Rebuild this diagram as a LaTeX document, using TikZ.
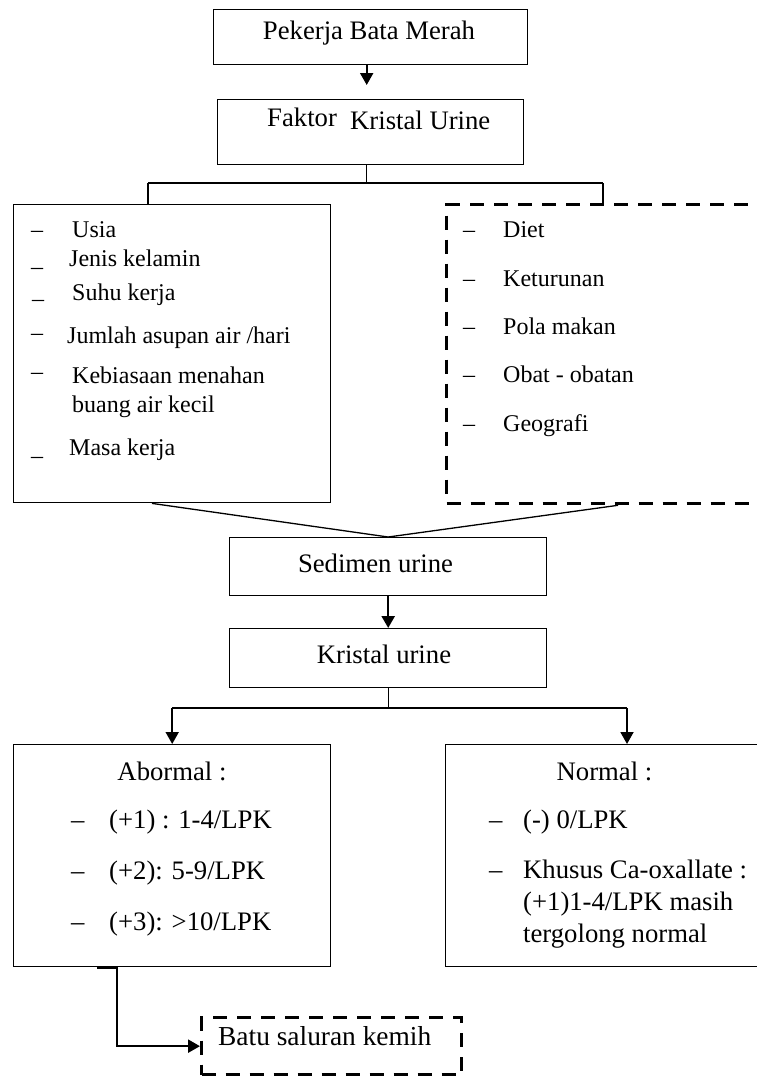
\documentclass[tikz,border=0pt]{standalone}
\usepackage{fontspec}
\setmainfont{Liberation Serif}
\usetikzlibrary{arrows.meta,calc}
\newcommand\fa{\fontsize{26.7}{32}\selectfont}
\newcommand\fb{\fontsize{24}{29}\selectfont}
\newcommand\fc{\fontsize{27.4}{32}\selectfont}
\tikzset{
  box/.style={draw, line width=1.4pt, inner sep=0pt, anchor=north west},
  dbox/.style={draw, line width=3.3pt, dash pattern=on 14pt off 10pt, inner sep=0pt, anchor=north west},
  ta/.style={inner sep=0pt, anchor=base west, font=\fa},
  tac/.style={inner sep=0pt, anchor=base, font=\fa},
  tb/.style={inner sep=0pt, anchor=base west, font=\fb},
  thin line/.style={line width=1.3pt},
  arr/.style={-{Triangle[length=12pt,width=13pt]}},
}
\begin{document}
\begin{tikzpicture}[x=1pt,y=-1pt]
\useasboundingbox (0,0) rectangle (757,1076);
\clip (0,0) rectangle (757,1076);

% boxes
\node[box, minimum width=314pt, minimum height=55pt] (pk) at (213,9) {};
\node[box, minimum width=306pt, minimum height=65pt] (fk) at (217,99) {};
\node[box, minimum width=317pt, minimum height=298pt] (lb) at (13,204) {};
\node[dbox, minimum width=325pt, minimum height=299pt] (rb) at (445,203) {};
\node[box, minimum width=317pt, minimum height=58pt] (sd) at (229,537) {};
\node[box, minimum width=317pt, minimum height=59pt] (kr) at (229,628) {};
\node[box, minimum width=317pt, minimum height=222pt] (ab) at (13,744) {};
\node[box, minimum width=325pt, minimum height=222pt] (nm) at (445,744) {};
\node[dbox, minimum width=260pt, minimum height=57pt] (bt) at (200,1016) {};

% texts
\node[tac] (tpk) at (369,39) {Pekerja Bata Merah};
\node[ta] (tfk1) at (267,126) {Faktor};
\node[ta] (tfk2) at (350,129) {Kristal Urine};
\node[tac] (tsd) at (375.5,572) {Sedimen urine};
\node[tac] (tkr) at (384,663) {Kristal urine};
\node[tac] (tab) at (172,780) {Abormal :};
\node[tac] (tnm) at (604.5,780) {Normal :};
\node[inner sep=0pt, anchor=base west, font=\fc] (tbt) at (218,1045) {Batu saluran kemih};

% left box list
\node[tb] (dl1) at (31,237) {\textendash};
\node[tb] (l1) at (72,237) {Usia};
\node[tb] (dl2) at (31,266) {\_};
\node[tb] (l2) at (69,266) {Jenis kelamin};
\node[tb] (dl3) at (32,298) {\_};
\node[tb] (l3) at (72,300) {Suhu kerja};
\node[tb] (dl4) at (31,340) {\textendash};
\node[tb] (l4) at (67,343) {Jumlah asupan air /hari};
\node[tb] (dl5) at (31,379) {\textendash};
\node[tb] (l5) at (72,383) {Kebiasaan menahan};
\node[tb] (l5b) at (72,412) {buang air kecil};
\node[tb] (dl6) at (31,455) {\_};
\node[tb] (l6) at (69,455) {Masa kerja};

% right box list
\node[tb] (dr1) at (463,237) {\textendash};
\node[tb] (r1) at (503,237) {Diet};
\node[tb] (dr2) at (463,286) {\textendash};
\node[tb] (r2) at (503,286) {Keturunan};
\node[tb] (dr3) at (463,334) {\textendash};
\node[tb] (r3) at (503,334) {Pola makan};
\node[tb] (dr4) at (463,382) {\textendash};
\node[tb] (r4) at (503,382) {Obat - obatan};
\node[tb] (dr5) at (463,431) {\textendash};
\node[tb] (r5) at (503,431) {Geografi};

% abnormal list
\node[ta] (da1) at (71,828) {\textendash};
\node[ta] (a1) at (109,828) {(+1) : 1-4/LPK};
\node[ta] (da2) at (71,879) {\textendash};
\node[ta] (a2) at (109,879) {(+2): 5-9/LPK};
\node[ta] (da3) at (71,930) {\textendash};
\node[ta] (a3) at (109,930) {(+3): >10/LPK};

% normal list
\node[ta] (dn1) at (489,828) {\textendash};
\node[ta] (n1) at (523,828) {(-) 0/LPK};
\node[ta] (dn2) at (489,878) {\textendash};
\node[ta] (n2) at (523,878) {Khusus Ca-oxallate :};
\node[ta] (n2b) at (523,910) {(+1)1-4/LPK masih};
\node[ta] (n2c) at (523,942) {tergolong normal};

% connectors
\draw[arr, line width=2pt, shorten >=14pt] ($(pk.south)+(-4,0)$) -- ($(fk.north)+(-4,0)$);
\coordinate (jl) at (148,183);
\coordinate (jr) at (603,183);
\draw[thin line] ($(fk.south)+(-4,0)$) -- ($(fk.south)+(-4,19)$);
\draw[line width=1.6pt] (jl) -- (jr);
\draw[thin line] (jl) -- (jl |- lb.north);
\draw[thin line] (jr) -- (jr |- rb.north);
\draw[thin line] ($(lb.south west)+(139,0)$) -- (sd.north);
\draw[thin line] ($(rb.south west)+(173,0)$) -- (sd.north);
\draw[arr, line width=2.5pt] (sd.south) -- (kr.north);
\draw[thin line] (kr.south) -- ++(0,21) coordinate (j2);
\draw[line width=1.6pt] ($(ab.north)+(0,-36)$) -- ($(nm.north west)+(182,-36)$);
\draw[arr, line width=1.8pt] ($(ab.north)+(0,-36)$) -- (ab.north);
\draw[arr, line width=1.8pt] ($(nm.north west)+(182,-36)$) -- ($(nm.north west)+(182,0)$);
\draw[arr, line width=2.3pt] ($(ab.south west)+(84,0)$) -- ++(20,0) |- (bt.west);
\end{tikzpicture}
\end{document}
